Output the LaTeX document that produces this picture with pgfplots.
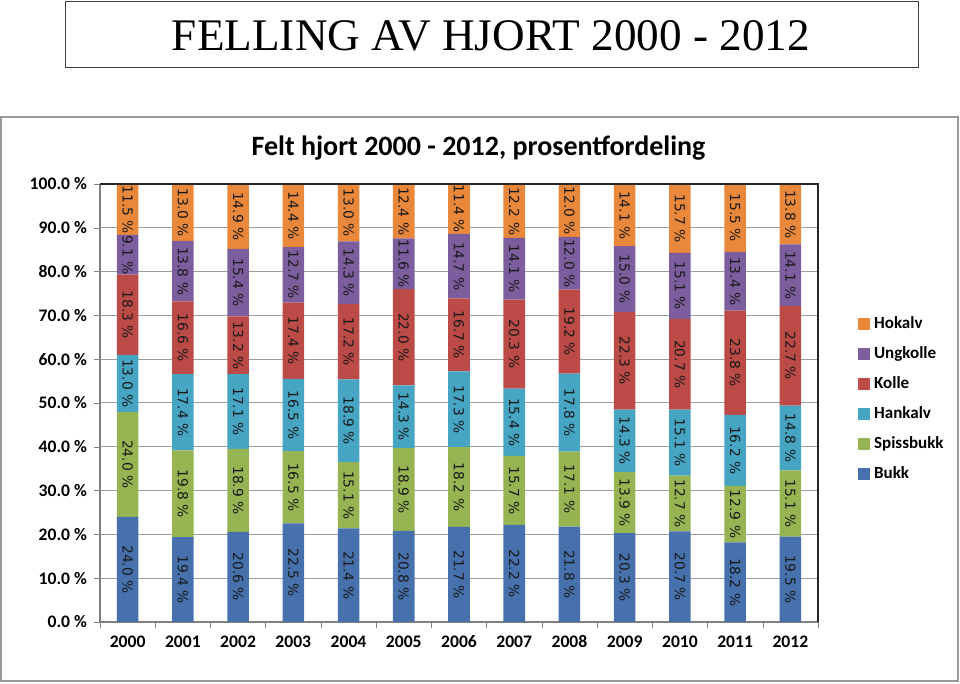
\documentclass[border=0pt]{standalone}
\usepackage{pgfplots}
\usepackage{pgfplotstable}
\pgfplotsset{compat=1.18}
\usepackage{fontspec}
\setmainfont{Carlito}
\newfontfamily\serifT{Liberation Serif}
\newfontfamily\dejavu{DejaVu Sans}
\definecolor{cBukk}{RGB}{70,113,172}
\definecolor{cSpiss}{RGB}{150,180,82}
\definecolor{cHank}{RGB}{70,165,195}
\definecolor{cKolle}{RGB}{188,74,70}
\definecolor{cUng}{RGB}{124,94,158}
\definecolor{cHok}{RGB}{233,136,58}
\pgfplotstableread{
x B S H K U O
0 24.0 24.0 13.0 18.3 9.1 11.5
1 19.4 19.8 17.4 16.6 13.8 13.0
2 20.6 18.9 17.1 13.2 15.4 14.9
3 22.5 16.5 16.5 17.4 12.7 14.4
4 21.4 15.1 18.9 17.2 14.3 13.0
5 20.8 18.9 14.3 22.0 11.6 12.4
6 21.7 18.2 17.3 16.7 14.7 11.4
7 22.2 15.7 15.4 20.3 14.1 12.2
8 21.8 17.1 17.8 19.2 12.0 12.0
9 20.3 13.9 14.3 22.3 15.0 14.1
10 20.7 12.7 15.1 20.7 15.1 15.7
11 18.2 12.9 16.2 23.8 13.4 15.5
12 19.5 15.1 14.8 22.7 14.1 13.8
}\data
\pgfplotstablecreatecol[create col/expr={\thisrow{B}/2}]{mB}\data
\pgfplotstablecreatecol[create col/expr={\thisrow{B}+\thisrow{S}/2}]{mS}\data
\pgfplotstablecreatecol[create col/expr={\thisrow{B}+\thisrow{S}+\thisrow{H}/2}]{mH}\data
\pgfplotstablecreatecol[create col/expr={\thisrow{B}+\thisrow{S}+\thisrow{H}+\thisrow{K}/2}]{mK}\data
\pgfplotstablecreatecol[create col/expr={\thisrow{B}+\thisrow{S}+\thisrow{H}+\thisrow{K}+\thisrow{U}/2}]{mU}\data
\pgfplotstablecreatecol[create col/expr={\thisrow{B}+\thisrow{S}+\thisrow{H}+\thisrow{K}+\thisrow{U}+\thisrow{O}/2}]{mO}\data
\begin{document}
\begin{tikzpicture}[x=1pt,y=1pt]
\useasboundingbox (0,0) rectangle (480,342);
\draw[black!40, line width=0.7pt] (0.5,1.5) rectangle (479,283.5);
\draw[black!75, line width=0.5pt] (32.5,308) rectangle (459,341);
\node[font=\serifT\fontsize{22.6}{26}\selectfont] at (245.5,324) {FELLING AV HJORT 2000 - 2012};
\node[font=\bfseries\fontsize{14}{17}\selectfont] at (239.25,268) {Felt hjort 2000 - 2012, prosentfordeling};
\begin{axis}[
  at={(50pt,31pt)}, anchor=south west,
  width=359pt, height=219pt, scale only axis,
  ybar stacked, bar width=0.39,
  xmin=-0.5, xmax=12.5, ymin=0, ymax=100,
  xtick={0,...,12},
  xticklabels={2000,2001,2002,2003,2004,2005,2006,2007,2008,2009,2010,2011,2012},
  minor xtick={-0.5,0.5,...,12.5},
  major x tick style={draw=none},
  minor x tick style={draw=black!50},
  minor tick length=3pt,
  ytick={0,10,...,100},
  major tick length=3pt,
  tick align=outside,
  y tick style={draw=black!50},
  /pgf/number format/assume math mode=true,
  yticklabel={\pgfmathprintnumber[fixed,fixed zerofill,precision=1]{\tick}~\%},
  tick label style={font=\bfseries\fontsize{8.8}{10}\selectfont},
  xticklabel style={text height=6.2pt, text depth=0.5pt},
  ymajorgrids, grid style={draw=black!38, line width=0.5pt},
  axis x line*=bottom, axis y line*=left,
  axis line style={draw=black!50, line width=0.6pt},
  extra description/.code={\draw[black!85, line width=0.6pt] (rel axis cs:0,1) -- (rel axis cs:1,1) -- (rel axis cs:1,0);},
  legend style={at={(1.047,0.716)}, anchor=north west, draw=none, fill=none,
    font=\bfseries\fontsize{8.5}{10}\selectfont, row sep=3.5pt},
  legend cell align=left,
  reverse legend,
  legend image code/.code={\fill[#1] (0pt,-3pt) rectangle (6pt,3pt);},
]
\addplot[fill=cBukk, draw=none] table[x=x,y=B]{\data};
\addplot[fill=cSpiss, draw=none] table[x=x,y=S]{\data};
\addplot[fill=cHank, draw=none] table[x=x,y=H]{\data};
\addplot[fill=cKolle, draw=none] table[x=x,y=K]{\data};
\addplot[fill=cUng, draw=none] table[x=x,y=U]{\data};
\addplot[fill=cHok, draw=none] table[x=x,y=O]{\data};
\legend{Bukk,Spissbukk,Hankalv,Kolle,Ungkolle,Hokalv}
\end{axis}
\begin{axis}[
  at={(50pt,31pt)}, anchor=south west,
  width=359pt, height=219pt, scale only axis,
  hide axis, clip=false,
  xmin=-0.5, xmax=12.5, ymin=0, ymax=100,
  point meta=explicit,
  /pgf/number format/assume math mode=true,
  nodes near coords={\pgfmathprintnumber[fixed,fixed zerofill,precision=1]{\pgfplotspointmeta}~\%},
  every node near coord/.append style={font=\dejavu\fontsize{6.9}{8}\selectfont, rotate=-90, anchor=center, text=black!90},
]
\addplot[draw=none, mark=none] table[x=x,y=mB,meta=B]{\data};
\addplot[draw=none, mark=none] table[x=x,y=mS,meta=S]{\data};
\addplot[draw=none, mark=none] table[x=x,y=mH,meta=H]{\data};
\addplot[draw=none, mark=none] table[x=x,y=mK,meta=K]{\data};
\addplot[draw=none, mark=none] table[x=x,y=mU,meta=U]{\data};
\addplot[draw=none, mark=none] table[x=x,y=mO,meta=O]{\data};
\end{axis}
\end{tikzpicture}
\end{document}
